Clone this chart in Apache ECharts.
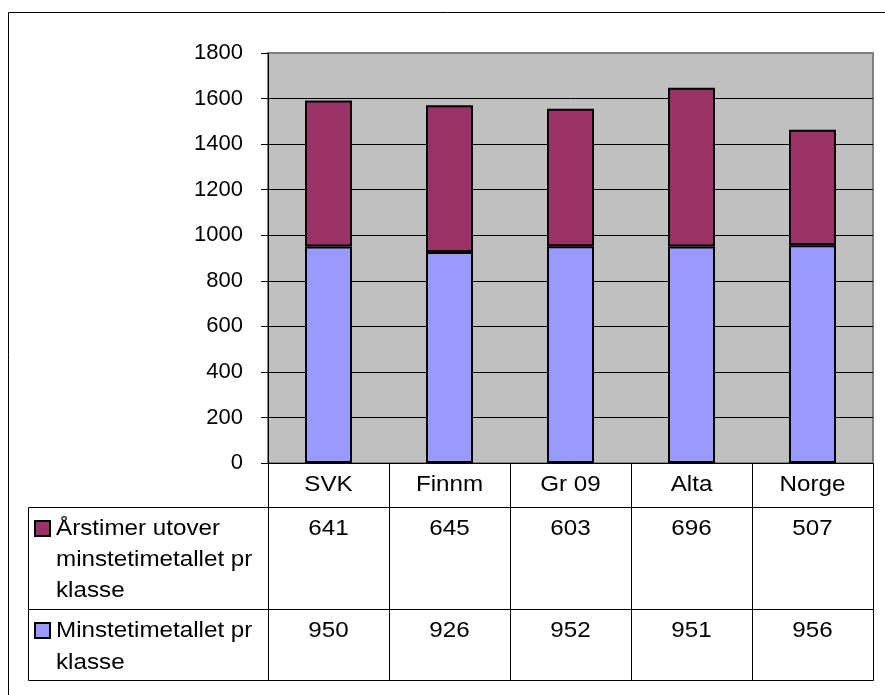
<!DOCTYPE html>
<html>
<head>
<meta charset="utf-8">
<script src="https://cdn.jsdelivr.net/npm/echarts@6/dist/echarts.min.js"></script>
<style>html,body{margin:0;padding:0;background:#fff;overflow:hidden;}#c{width:885px;height:695px;}</style>
</head>
<body>
<div id="c"></div>
<script>
const categories = ['SVK', 'Finnm', 'Gr 09', 'Alta', 'Norge'];
const minstetimetallet = [950, 926, 952, 951, 956];
const arstimerUtover = [641, 645, 603, 696, 507];
const seriesNames = ['Årstimer utover minstetimetallet pr klasse', 'Minstetimetallet pr klasse'];
const legendLines = [['Årstimer utover', 'minstetimetallet pr', 'klasse'], ['Minstetimetallet pr', 'klasse']];
const seriesColors = ['#993366', '#9999FF'];

const FONT = 'Arial, "Liberation Sans", sans-serif';
const chart = echarts.init(document.getElementById('c'), null, {renderer: 'canvas'});
const GL = 268, GT = 53, GW = 605, GH = 410;
const splitColors = ['#000','#000','#000','#000','#000','#000','#000','#000','#000','#808080'];

chart.setOption({
  animation: false,
  backgroundColor: '#fff',
  grid: {left: GL, top: GT, width: GW, height: GH, show: true, backgroundColor: '#C0C0C0', borderColor: '#808080', borderWidth: 2},
  xAxis: {
    type: 'category', data: categories,
    axisLine: {show: true, lineStyle: {color: '#000', width: 1}},
    axisTick: {show: false}, axisLabel: {show: false}, splitLine: {show: false}
  },
  yAxis: {
    type: 'value', min: 0, max: 1800, interval: 200,
    axisLine: {show: true, lineStyle: {color: '#000', width: 1}},
    axisTick: {show: true, length: 7, lineStyle: {color: '#000'}},
    axisLabel: {fontSize: 22, color: '#000', margin: 25, fontFamily: FONT, formatter: v => String(v)},
    splitLine: {show: true, lineStyle: {color: splitColors, width: 1}}
  },
  series: [
    {name: seriesNames[1], type: 'bar', stack: 'total', data: minstetimetallet, barWidth: 47,
     itemStyle: {color: seriesColors[1], borderColor: '#000', borderWidth: 2}},
    {name: seriesNames[0], type: 'bar', stack: 'total', data: arstimerUtover, barWidth: 47,
     itemStyle: {color: seriesColors[0], borderColor: '#000', borderWidth: 2}}
  ]
});

// Data table below the plot
const centers = categories.map(c => chart.convertToPixel({xAxisIndex: 0}, c));
const band = centers[1] - centers[0];
const tableLeft = 28.5, yHead = 463.5, yR1 = 507.5, yR2 = 609.5, yEnd = 680.5;
const right = Math.round(centers[centers.length - 1] + band / 2) + 0.5;
const g = [];
const line = (x1, y1, x2, y2) => g.push({type: 'line', shape: {x1, y1, x2, y2}, style: {stroke: '#000', lineWidth: 1}, z: 10});
[yR1, yR2, yEnd].forEach(y => line(tableLeft, y, right, y));
line(tableLeft, yR1, tableLeft, yEnd);
line(GL + 0.5, yHead, GL + 0.5, yEnd);
centers.forEach(c => line(Math.round(c + band / 2) + 0.5, yHead, Math.round(c + band / 2) + 0.5, yEnd));
const SX = 1.1;
const txt = (x, y, text, align) => g.push({type: 'text', x, y, scaleX: SX, z: 11,
  style: {text, fill: '#000', font: '22px ' + FONT, align: align, verticalAlign: 'middle'}});
centers.forEach((c, i) => {
  txt(c, 485, categories[i], 'center');
  txt(c, 529, String(arstimerUtover[i]), 'center');
  txt(c, 631, String(minstetimetallet[i]), 'center');
});
const legendY = [[529, 560, 591], [631, 663]];
const squareY = [521, 623];
legendLines.forEach((lines, r) => {
  g.push({type: 'rect', shape: {x: 35, y: squareY[r], width: 15, height: 15}, style: {fill: seriesColors[r], stroke: '#000', lineWidth: 2}, z: 11});
  lines.forEach((t, k) => txt(56, legendY[r][k], t, 'left'));
});
// outer chart border (extends past the right and bottom edges)
g.push({type: 'polyline', shape: {points: [[8.5, 700], [8.5, 12.5], [900, 12.5]]}, style: {fill: null, stroke: '#000', lineWidth: 1}, z: 0});
chart.setOption({graphic: g});
</script>
</body>
</html>
